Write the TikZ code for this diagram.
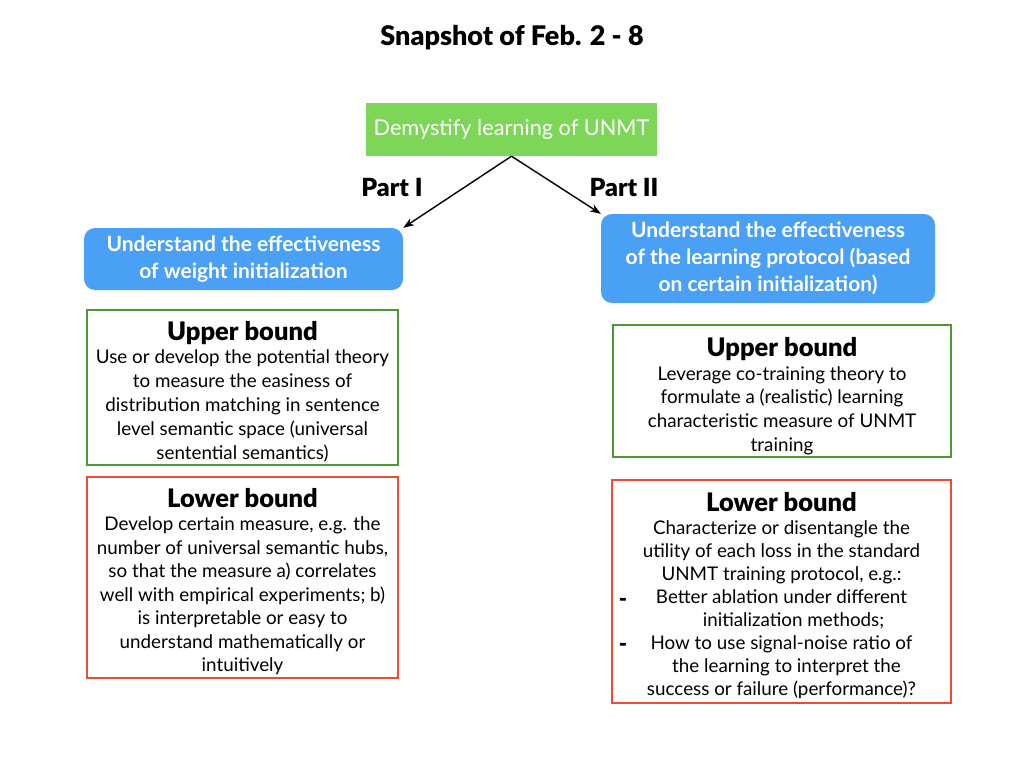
\documentclass[tikz,border=0pt]{standalone}
\usepackage{fontspec}
\setmainfont{Lato}
\newfontfamily\heavyfont{Lato Black}
\usetikzlibrary{arrows.meta}
\definecolor{rootgreen}{RGB}{126,214,88}
\definecolor{partblue}{RGB}{74,160,245}
\definecolor{upgreen}{RGB}{78,152,52}
\definecolor{lowred}{RGB}{236,76,50}
\tikzset{
  body/.style={font=\fontsize{18.8}{23.8}\selectfont, align=center, inner sep=0pt},
  upbox/.style={draw=upgreen, line width=2.6pt, inner sep=0pt},
  lowbox/.style={draw=lowred, line width=2.6pt, inner sep=0pt},
  partbox/.style={fill=partblue, rounded corners=11pt, text=white, align=center,
    font=\fontsize{21}{27}\selectfont\bfseries, inner sep=0pt},
  rootbox/.style={fill=rootgreen, text=white, font=\fontsize{21.7}{24}\selectfont,
    inner sep=0pt, minimum width=291pt, minimum height=53pt},
  parttag/.style={font=\fontsize{25}{26}\heavyfont},
  link/.style={-{Stealth[length=11pt,width=8pt]}, line width=1.4pt},
  dashmark/.style={font=\fontsize{22}{24}\heavyfont}
}
\newcommand{\boxhead}[1]{{\fontsize{25.5}{24}\heavyfont #1}}
\begin{document}
\begin{tikzpicture}[x=1pt,y=-1pt]
\useasboundingbox[fill=white] (0,0) rectangle (1024,768);

\node[font=\fontsize{27}{28}\heavyfont] (title) at (512,38) {Snapshot of Feb. 2 - 8};

\node[rootbox] (root) at (511.5,129.5) {Demystify learning of UNMT};

\node[partbox, minimum width=319pt, minimum height=62pt] (p1) at (243.5,259)
  {Understand the effectiveness\\of weight initialization};
\node[partbox, minimum width=334pt, minimum height=89pt] (p2) at (768,258.5)
  {Understand the effectiveness\\of the learning protocol (based\\on certain initialization)};

\node[parttag] (t1) at (392,187) {Part I};
\node[parttag] (t2) at (624,187) {Part II};

\draw[link] (root.south) -- (p1.north east);
\draw[link] (root.south) -- (p2.north west);

% Part I: bounds
\node[upbox, minimum width=311pt, minimum height=155pt] (u1) at (242.5,387.5) {};
\node[body, yshift=-4pt] (u1text) at (u1.center)
  {\boxhead{Upper bound}\\
   Use or develop the potential theory\\
   to measure the easiness of\\
   distribution matching in sentence\\
   level semantic space (universal\\
   sentential semantics)};

\node[lowbox, minimum width=311pt, minimum height=201pt] (l1) at (242.5,577.5) {};
\node[body, font=\fontsize{18.8}{23.5}\selectfont, yshift=-4pt] (l1text) at (l1.center)
  {\boxhead{Lower bound}\\
   Develop certain measure, e.g. the\\
   number of universal semantic hubs,\\
   so that the measure a) correlates\\
   well with empirical experiments; b)\\
   is interpretable or easy to\\
   understand mathematically or\\
   intuitively};

% Part II: bounds
\node[upbox, minimum width=338pt, minimum height=132pt] (u2) at (782,391) {};
\node[body, yshift=-5pt] (u2text) at (u2.center)
  {\boxhead{Upper bound}\\
   Leverage co-training theory to\\
   formulate a (realistic) learning\\
   characteristic measure of UNMT\\
   training};

\node[lowbox, minimum width=339pt, minimum height=223pt] (l2) at (781.5,591.5) {};
\node[body, font=\fontsize{18.8}{23}\selectfont, yshift=-4pt] (l2text) at (l2.center)
  {\boxhead{Lower bound}\\
   Characterize or disentangle the\\
   utility of each loss in the standard\\
   UNMT training protocol, e.g.:\\
   Better ablation under different\\
   \hspace*{24pt}initialization methods;\\
   How to use signal-noise ratio of\\
   \hspace*{10pt}the learning to interpret the\\
   success or failure (performance)?};

\node[dashmark] (d1) at (623,602) {-};
\node[dashmark] (d2) at (623,647) {-};
\end{tikzpicture}
\end{document}
